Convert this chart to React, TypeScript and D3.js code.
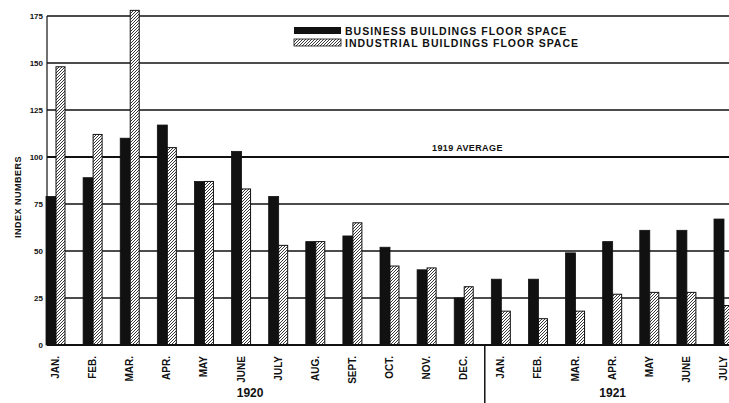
import React from "react";
import * as d3 from "d3";

// months, Jan 1920 .. July 1921
const months = [
  "JAN.", "FEB.", "MAR.", "APR.", "MAY", "JUNE", "JULY", "AUG.", "SEPT.", "OCT.", "NOV.", "DEC.",
  "JAN.", "FEB.", "MAR.", "APR.", "MAY", "JUNE", "JULY",
];
const years = [
  { label: "1920", from: 0, to: 11 },
  { label: "1921", from: 12, to: 18 },
];
const business = [79, 89, 110, 117, 87, 103, 79, 55, 58, 52, 40, 25, 35, 35, 49, 55, 61, 61, 67];
const industrial = [148, 112, 178, 105, 87, 83, 53, 55, 65, 42, 41, 31, 18, 14, 18, 27, 28, 28, 21];
const yTicks = [0, 25, 50, 75, 100, 125, 150, 175];
const averageValue = 100;
const legendLabels = ["BUSINESS BUILDINGS FLOOR SPACE", "INDUSTRIAL BUILDINGS FLOOR SPACE"];

const W = 729;
const H = 403;
const left = 47;
const top = 16;
const base = 345;
const font = "'Liberation Sans', Arial, sans-serif";
const ink = "#111";

export default function App() {
  const x = d3.scalePoint<number>()
    .domain(d3.range(months.length))
    .range([56, 724]);
  const y = d3.scaleLinear().domain([0, 175]).range([base, top]);

  const bw = 10; // black bar width
  const hw = 9; // hatched bar width
  const step = x.step();

  return (
    <svg width={W} height={H} style={{ position: "absolute", left: 0, top: 0, background: "#fff" }}>
      <defs>
        <pattern id="hatch" patternUnits="userSpaceOnUse" width="3" height="3">
          <rect width="3" height="3" fill="#fff" />
          <path d="M-1,1 l2,-2 M0,3 l3,-3 M2,4 l2,-2" stroke="#222" strokeWidth="0.9" />
        </pattern>
      </defs>

      {/* grid */}
      {yTicks.filter((t) => t > 0).map((t) => (
        <line key={t} x1={left} x2={W} y1={y(t)} y2={y(t)}
          stroke={ink} strokeWidth={t === averageValue ? 2 : 1.4} />
      ))}
      <text x={432} y={y(averageValue) - 6} fontFamily={font} fontWeight="bold" fontSize={9}
        letterSpacing={0.4} fill={ink}>
        1919 AVERAGE
      </text>

      {/* legend */}
      <rect x={294} y={27} width={47} height={7} fill={ink} />
      <text x={345} y={34.5} fontFamily={font} fontWeight="bold" fontSize={10.5} letterSpacing={1} fill={ink}>
        {legendLabels[0]}
      </text>
      <rect x={294} y={39} width={47} height={7} fill="url(#hatch)" stroke={ink} strokeWidth={0.8} />
      <text x={345} y={47} fontFamily={font} fontWeight="bold" fontSize={10.5} letterSpacing={1} fill={ink}>
        {legendLabels[1]}
      </text>

      {/* bars */}
      {months.map((m, i) => (
        <g key={i}>
          <rect x={x(i)! - bw} y={y(business[i])} width={bw} height={base - y(business[i])}
            fill={ink} stroke={ink} strokeWidth={0.8} />
          <rect x={x(i)!} y={y(industrial[i])} width={hw} height={base - y(industrial[i])}
            fill="url(#hatch)" stroke={ink} strokeWidth={1} />
        </g>
      ))}

      {/* axes */}
      <line x1={left} x2={left} y1={top} y2={base} stroke={ink} strokeWidth={1.2} />
      <line x1={left} x2={W} y1={base} y2={base} stroke={ink} strokeWidth={1.8} />
      {yTicks.map((t) => (
        <text key={t} x={43} y={y(t) + 3} textAnchor="end" fontFamily={font} fontWeight="bold"
          fontSize={8} fill={ink}>
          {t}
        </text>
      ))}
      <text transform={`translate(21,${197}) rotate(-90)`} textAnchor="middle" fontFamily={font}
        fontWeight="bold" fontSize={9} letterSpacing={0.5} fill={ink}>
        INDEX NUMBERS
      </text>

      {/* month labels */}
      {months.map((m, i) => (
        <text key={i} transform={`translate(${x(i)! + 3},356) rotate(-90)`} textAnchor="end"
          fontFamily={font} fontWeight="bold" fontSize={10} fill={ink}>
          {m}
        </text>
      ))}

      {/* year divider and labels */}
      <line x1={x(12)! - step / 2 + 2} x2={x(12)! - step / 2 + 2} y1={base} y2={H}
        stroke={ink} strokeWidth={1.5} />
      {years.map((yr) => (
        <text key={yr.label} x={(x(yr.from)! + x(yr.to)!) / 2 + (yr.from === 0 ? -10 : 0)} y={397}
          textAnchor="middle" fontFamily={font} fontWeight="bold" fontSize={12} fill={ink}>
          {yr.label}
        </text>
      ))}
    </svg>
  );
}
